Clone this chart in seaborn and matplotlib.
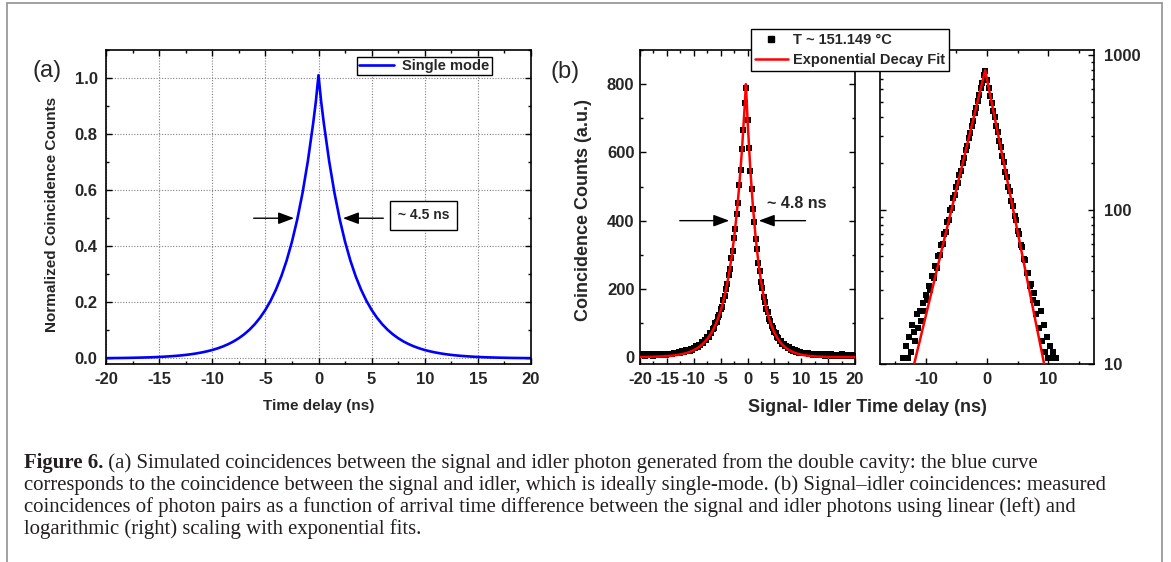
import numpy as np
import pandas as pd
import matplotlib
matplotlib.use("Agg")
import matplotlib.pyplot as plt
import seaborn as sns
from matplotlib.lines import Line2D
from matplotlib.ticker import MultipleLocator, LogLocator, NullFormatter, FixedLocator

# ---------------- data ----------------
# (a) simulated single-mode coincidence curve
sim_delay = [-20, -19.5, -19, -18.5, -18, -17.5, -17, -16.5, -16, -15.5, -15, -14.5,
             -14, -13.5, -13, -12.5, -12, -11.5, -11, -10.5, -10, -9.5, -9, -8.5,
             -8, -7.5, -7, -6.5, -6, -5.5, -5, -4.5, -4, -3.5, -3, -2.5, -2, -1.5,
             -1, -0.5, -0.25, 0, 0.25, 0.5, 1, 1.5, 2, 2.5, 3, 3.5, 4, 4.5, 5, 5.5,
             6, 6.5, 7, 7.5, 8, 8.5, 9, 9.5, 10, 10.5, 11, 11.5, 12, 12.5, 13, 13.5,
             14, 14.5, 15, 15.5, 16, 16.5, 17, 17.5, 18, 18.5, 19, 19.5, 20]
sim_counts = [0.0009, 0.0011, 0.0013, 0.0015, 0.0018, 0.0022, 0.0026, 0.0031, 0.0036,
              0.0043, 0.0052, 0.0062, 0.0074, 0.0088, 0.0104, 0.0124, 0.0148, 0.0177,
              0.0211, 0.0251, 0.0299, 0.0357, 0.0425, 0.0507, 0.0604, 0.0720, 0.0858,
              0.1022, 0.1218, 0.1452, 0.1730, 0.2062, 0.2458, 0.2929, 0.3490, 0.4160,
              0.4957, 0.5908, 0.7041, 0.8391, 0.9160, 1.0100, 0.9160, 0.8391, 0.7041,
              0.5908, 0.4957, 0.4160, 0.3490, 0.2929, 0.2458, 0.2062, 0.1730, 0.1452,
              0.1218, 0.1022, 0.0858, 0.0720, 0.0604, 0.0507, 0.0425, 0.0357, 0.0299,
              0.0251, 0.0211, 0.0177, 0.0148, 0.0124, 0.0104, 0.0088, 0.0074, 0.0062,
              0.0052, 0.0043, 0.0036, 0.0031, 0.0026, 0.0022, 0.0018, 0.0015, 0.0013,
              0.0011, 0.0009]

# (b) measured coincidences, 0.25 ns bins from -20 to 20 ns
bin_delay = np.arange(-20, 20.001, 0.25)
meas_counts = [6, 8, 5, 7, 4, 9, 6, 5,
               8, 7, 4, 8, 6, 9, 5, 7,
               8, 6, 9, 7, 9, 8, 9, 8,
               9, 11, 11, 13, 11, 15, 12, 18,
               16, 14, 21, 17, 22, 19, 25, 22,
               28, 26, 32, 30, 37, 36, 43, 42,
               50, 51, 59, 60, 70, 72, 83, 86,
               99, 103, 118, 124, 140, 148, 168, 179,
               201, 215, 242, 258, 290, 312, 348, 377,
               420, 452, 505, 548, 610, 665, 745, 790,
               695, 612, 545, 492, 433, 395, 346, 316,
               276, 253, 221, 203, 176, 163, 141, 132,
               113, 106, 91, 86, 73, 70, 59, 57,
               48, 47, 39, 39, 32, 33, 26, 29,
               21, 25, 17, 22, 14, 18, 12, 15,
               11, 13, 11, 12, 11, 11, 9, 8,
               9, 7, 8, 6, 9, 7, 5, 8,
               6, 7, 4, 8, 6, 5, 8, 4,
               7, 6, 3, 7, 5, 4, 8, 3,
               6, 5, 2, 6, 4, 3, 5, 2,
               4]

# exponential decay fit
fit_delay = [-20, -19.5, -19, -18.5, -18, -17.5, -17, -16.5, -16, -15.5, -15, -14.5,
             -14, -13.5, -13, -12.5, -12, -11.5, -11, -10.5, -10, -9.5, -9, -8.5,
             -8, -7.5, -7, -6.5, -6, -5.5, -5, -4.5, -4, -3.5, -3, -2.5, -2, -1.5,
             -1, -0.5, -0.3, 0, 0.5, 1, 1.5, 2, 2.5, 3, 3.5, 4, 4.5, 5, 5.5, 6, 6.5,
             7, 7.5, 8, 8.5, 9, 9.5, 10, 10.5, 11, 11.5, 12, 12.5, 13, 13.5, 14,
             14.5, 15, 15.5, 16, 16.5, 17, 17.5, 18, 18.5, 19, 19.5, 20]
fit_counts = [0.47, 0.57, 0.69, 0.83, 1.01, 1.22, 1.47, 1.77, 2.14, 2.59, 3.12, 3.77,
              4.55, 5.50, 6.64, 8.02, 9.69, 11.7, 14.1, 17.05, 20.6, 24.9, 30.0, 36.3,
              43.8, 52.9, 63.9, 77.1, 93.1, 112.5, 135.8, 164.0, 198.1, 239.2, 288.8,
              348.8, 421.2, 508.7, 614.3, 741.8, 800.0,
              698.0, 556.2, 443.1, 353.1, 281.3, 224.1, 178.6, 142.3, 113.4, 90.3,
              72.0, 57.3, 45.7, 36.4, 29.0, 23.1, 18.4, 14.7, 11.7, 9.32, 7.43, 5.92,
              4.71, 3.76, 2.99, 2.38, 1.90, 1.51, 1.21, 0.96, 0.77, 0.61, 0.49, 0.39,
              0.31, 0.24, 0.20, 0.16, 0.12, 0.10, 0.08]

a_xticks = [-20, -15, -10, -5, 0, 5, 10, 15, 20]
a_yticks = [0.0, 0.2, 0.4, 0.6, 0.8, 1.0]
b_xticks = [-20, -15, -10, -5, 0, 5, 10, 15, 20]
b_yticks = [0, 200, 400, 600, 800]
log_xticks = [-10, 0, 10]
log_yticks = [10, 100, 1000]

caption_bold = "Figure 6."
caption_lines = [
    " (a) Simulated coincidences between the signal and idler photon generated from the double cavity: the blue curve",
    "corresponds to the coincidence between the signal and idler, which is ideally single-mode. (b) Signal\u2013idler coincidences: measured",
    "coincidences of photon pairs as a function of arrival time difference between the signal and idler photons using linear (left) and",
    "logarithmic (right) scaling with exponential fits.",
]

sim_df = pd.DataFrame({"delay": sim_delay, "counts": sim_counts})
meas_df = pd.DataFrame({"delay": bin_delay, "counts": meas_counts})
fit_df = pd.DataFrame({"delay": fit_delay, "counts": fit_counts})

# ---------------- style ----------------
sns.set_style("ticks")
plt.rcParams["font.family"] = ["Liberation Sans", "DejaVu Sans"]
plt.rcParams["axes.linewidth"] = 1.2

W, H = 1171, 562
fig = plt.figure(figsize=(W / 100, H / 100), dpi=100)
fig.patch.set_facecolor("white")


def fx(px):
    return px / W


def fy(py):
    return 1 - py / H


def rect(l, t, r, b):
    return [fx(l), fy(b), (r - l) / W, (b - t) / H]


def style_axes(ax, labelsize, pad):
    for s in ax.spines.values():
        s.set_linewidth(1.2)
        s.set_color("black")
    ax.tick_params(which="both", direction="in", top=True, right=True,
                   color="black", width=1.0, labelsize=labelsize, pad=pad)
    ax.tick_params(which="major", length=4.5)
    ax.tick_params(which="minor", length=2.5)


def bold_ticks(ax):
    for axis in (ax.xaxis, ax.yaxis):
        for t in axis.get_major_ticks():
            t.label1.set_fontweight("bold")
            t.label2.set_fontweight("bold")


# ---------------- panel (a) ----------------
ax_a = fig.add_axes(rect(106, 50, 531, 364))
sns.lineplot(data=sim_df, x="delay", y="counts", ax=ax_a, color="#0000ff",
             lw=1.9, estimator=None, sort=False, label="Single mode")
ax_a.set_xlim(-20, 20)
ax_a.set_ylim(-0.02, 1.1)
ax_a.xaxis.set_major_locator(FixedLocator(a_xticks))
ax_a.xaxis.set_minor_locator(MultipleLocator(2.5))
ax_a.yaxis.set_major_locator(FixedLocator(a_yticks))
ax_a.yaxis.set_minor_locator(MultipleLocator(0.1))
ax_a.set_xticklabels([str(v) for v in a_xticks])
ax_a.set_yticklabels([f"{v:.1f}" for v in a_yticks])
ax_a.set_xlabel("")
ax_a.set_ylabel("")
ax_a.set_axisbelow(True)
ax_a.grid(True, which="major", color="#808080", lw=0.8, ls=(0, (1, 1.5)))
style_axes(ax_a, 12, 6)
bold_ticks(ax_a)
leg_a = ax_a.legend(loc="upper right", bbox_to_anchor=(0.908, 0.978), borderaxespad=0,
                    frameon=True, fancybox=False, edgecolor="black", framealpha=1,
                    prop={"weight": "bold", "size": 10.5}, handlelength=2.4,
                    handletextpad=0.6, borderpad=0.15)
leg_a.get_frame().set_linewidth(1.0)

arrow_kw = dict(arrowstyle="-|>,head_length=0.8,head_width=0.3", color="black",
                lw=1.0, shrinkA=0, shrinkB=0, mutation_scale=12)
ax_a.annotate("", xy=(-2.3, 0.5), xytext=(-6.1, 0.5), arrowprops=arrow_kw)
ax_a.annotate("", xy=(2.3, 0.5), xytext=(6.1, 0.5), arrowprops=arrow_kw)
ax_a.text(9.9, 0.51, "~ 4.5 ns", ha="center", va="center", fontsize=10,
          fontweight="bold",
          bbox=dict(boxstyle="square,pad=0.55", fc="white", ec="black", lw=1.0))

fig.text(fx(319), fy(406), "Time delay (ns)", ha="center", va="center",
         fontsize=11, fontweight="bold")
fig.text(fx(52), fy(214), "Normalized Coincidence Counts", ha="center", va="center",
         rotation=90, fontsize=11, fontweight="bold")
fig.text(fx(47), fy(71), "(a)", ha="center", va="center", fontsize=17)

# ---------------- panel (b) linear ----------------
ax_b = fig.add_axes(rect(640, 50, 855, 364))
sns.scatterplot(data=meas_df, x="delay", y="counts", ax=ax_b, marker="s", s=24,
                color="black", linewidth=0, legend=False, zorder=2)
sns.lineplot(data=fit_df, x="delay", y="counts", ax=ax_b, color="#ff0000", lw=1.8,
             estimator=None, sort=False, legend=False, zorder=3)
ax_b.set_xlim(-20, 20)
ax_b.set_ylim(-20, 900)
ax_b.xaxis.set_major_locator(FixedLocator(b_xticks))
ax_b.xaxis.set_minor_locator(MultipleLocator(2.5))
ax_b.yaxis.set_major_locator(FixedLocator(b_yticks))
ax_b.yaxis.set_minor_locator(MultipleLocator(100))
ax_b.set_xticklabels([str(v) for v in b_xticks])
ax_b.set_yticklabels([str(v) for v in b_yticks])
ax_b.set_xlabel("")
ax_b.set_ylabel("")
style_axes(ax_b, 12, 4)
ax_b.tick_params(axis="x", pad=6)
bold_ticks(ax_b)

ax_b.annotate("", xy=(-3.4, 400), xytext=(-12.6, 400), arrowprops=arrow_kw)
ax_b.annotate("", xy=(2.1, 400), xytext=(10.8, 400), arrowprops=arrow_kw)
ax_b.text(3.6, 451, "~ 4.8 ns", ha="left", va="center", fontsize=11.5,
          fontweight="bold")

# ---------------- panel (b) log ----------------
ax_l = fig.add_axes(rect(880, 50, 1094, 364))
sns.scatterplot(data=meas_df, x="delay", y="counts", ax=ax_l, marker="s", s=24,
                color="black", linewidth=0, legend=False, zorder=2)
sns.lineplot(data=fit_df, x="delay", y="counts", ax=ax_l, color="#ff0000", lw=1.8,
             estimator=None, sort=False, legend=False, zorder=3)
ax_l.set_yscale("log")
ax_l.set_xlim(-17.5, 17.5)
ax_l.set_ylim(10, 1080)
ax_l.xaxis.set_major_locator(FixedLocator(log_xticks))
ax_l.xaxis.set_minor_locator(MultipleLocator(5))
ax_l.yaxis.set_major_locator(FixedLocator(log_yticks))
ax_l.yaxis.set_minor_locator(LogLocator(base=10, subs=np.arange(2, 10)))
ax_l.yaxis.set_minor_formatter(NullFormatter())
ax_l.set_xticklabels([str(v) for v in log_xticks])
ax_l.set_yticklabels([str(v) for v in log_yticks])
ax_l.set_xlabel("")
ax_l.set_ylabel("")
style_axes(ax_l, 12, 6)
ax_l.tick_params(axis="y", labelleft=False, labelright=True, pad=7)
bold_ticks(ax_l)

fig.text(fx(867), fy(408), "Signal- Idler Time delay (ns)", ha="center", va="center",
         fontsize=13, fontweight="bold")
fig.text(fx(584), fy(210), "Coincidence Counts (a.u.)", ha="center", va="center",
         rotation=90, fontsize=13, fontweight="bold")
fig.text(fx(565), fy(72), "(b)", ha="center", va="center", fontsize=17)

handles_b = [Line2D([], [], marker="s", ls="none", color="black", markersize=4.5),
             Line2D([], [], color="#ff0000", lw=1.8)]
leg_b = fig.legend(handles_b, ["T ~ 151.149 \u00b0C", "Exponential Decay Fit"],
                   loc="upper left", bbox_to_anchor=(fx(751), fy(29)),
                   borderaxespad=0, frameon=True, fancybox=False, edgecolor="black",
                   framealpha=1, prop={"weight": "bold", "size": 10.5},
                   handlelength=2.3, handletextpad=0.35, labelspacing=0.45,
                   borderpad=0.25)
leg_b.get_frame().set_linewidth(1.0)

# ---------------- outer frame ----------------
frame_col = "#9a9a9a"
fig.add_artist(Line2D([fx(7), fx(7)], [fy(3), 0], color=frame_col, lw=1.3,
                      transform=fig.transFigure))
fig.add_artist(Line2D([fx(7), fx(1162)], [fy(3), fy(3)], color=frame_col, lw=1.3,
                      transform=fig.transFigure))
fig.add_artist(Line2D([fx(1162), fx(1162)], [fy(3), 0], color=frame_col, lw=1.3,
                      transform=fig.transFigure))

# ---------------- caption ----------------
renderer = fig.canvas.get_renderer()
probe = fig.text(0, 0, caption_lines[1], fontsize=12, family="Liberation Serif")
w_probe = probe.get_window_extent(renderer).width
probe.remove()
cap_size = 12 * (1107 - 24) / w_probe
cap_col = "#231f20"
baselines = [468, 490, 512, 534]
tb = fig.text(fx(24), fy(baselines[0]), caption_bold, fontsize=cap_size,
              family="Liberation Serif", fontweight="bold", va="baseline", color=cap_col)
wb = tb.get_window_extent(renderer).width
fig.text(fx(24 + wb), fy(baselines[0]), caption_lines[0], fontsize=cap_size,
         family="Liberation Serif", va="baseline", color=cap_col)
for line, yb in zip(caption_lines[1:], baselines[1:]):
    fig.text(fx(24), fy(yb), line, fontsize=cap_size, family="Liberation Serif",
             va="baseline", color=cap_col)

fig.savefig("out.png", dpi=100, facecolor="white")
